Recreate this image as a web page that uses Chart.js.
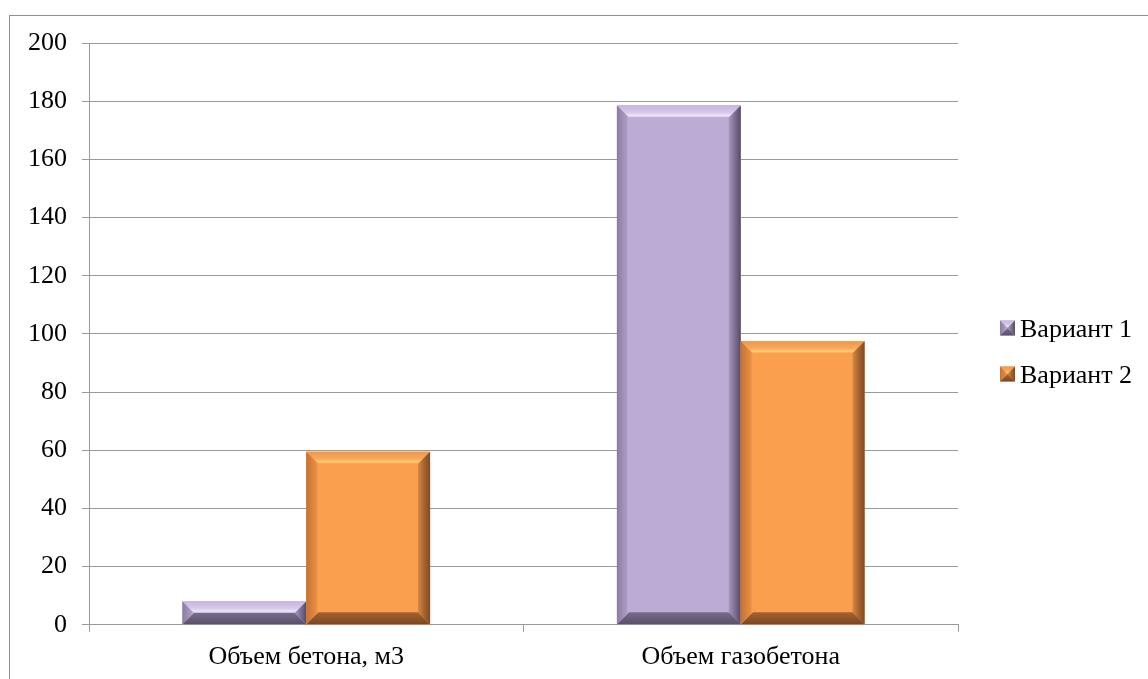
<!DOCTYPE html>
<html lang="ru">
<head>
<meta charset="utf-8">
<title>Объем бетона и газобетона</title>
<script src="https://cdn.jsdelivr.net/npm/chart.js@4.4.1/dist/chart.umd.min.js"></script>
<style>
  html, body { margin: 0; padding: 0; background: #fff; overflow: hidden; }
  #wrap { position: relative; width: 1148px; height: 679px; overflow: hidden; }
  #frame { position: absolute; left: 9px; top: 15px; width: 1200px; height: 700px; border: 1px solid #8f8f8f; box-sizing: border-box; pointer-events: none; }
  canvas { position: absolute; left: 0; top: 0; }
</style>
</head>
<body>
<div id="wrap">
  <canvas id="volumeChart" width="1148" height="679"></canvas>
  <div id="frame"></div>
</div>
<script>
const categories = ['Объем бетона, м3', 'Объем газобетона'];
const seriesNames = ['Вариант 1', 'Вариант 2'];
const variant1 = [8, 178.5];
const variant2 = [59.5, 97.5];
const yTicks = [0, 20, 40, 60, 80, 100, 120, 140, 160, 180, 200];

// excel-like bevel colours, one palette per series
const palettes = [
    {
        face: '#BCABD4',
        top: [[0, '#C6B6DC'], [0.6, '#D6C9EA'], [0.85, '#EFE6FC'], [1, '#C4B4DB']],
        left: [[0, '#8A7CA0'], [0.8, '#AC9CC4'], [1, '#C3B4DA']],
        right: [[0, '#A696BC'], [0.5, '#7E7094'], [1, '#564A66']],
        bottom: [[0, '#776B8C'], [1, '#5A5068']]
    },
    {
        face: '#FA9F4D',
        top: [[0, '#EC984F'], [0.6, '#F8A95B'], [0.85, '#FFCC70'], [1, '#F9A352']],
        left: [[0, '#C47333'], [0.8, '#E68D44'], [1, '#F7A052']],
        right: [[0, '#D88742'], [0.5, '#A7642F'], [1, '#7F4A23']],
        bottom: [[0, '#A4622E'], [1, '#7A4721']]
    }
];

function grad(ctx, x0, y0, x1, y1, stops) {
    const g = ctx.createLinearGradient(x0, y0, x1, y1);
    stops.forEach(s => g.addColorStop(s[0], s[1]));
    return g;
}

function poly(ctx, pts, fill) {
    ctx.beginPath();
    ctx.moveTo(pts[0][0], pts[0][1]);
    for (let i = 1; i < pts.length; i++) ctx.lineTo(pts[i][0], pts[i][1]);
    ctx.closePath();
    ctx.fillStyle = fill;
    ctx.fill();
}

function drawBevel(ctx, x0, x1, yTop, yBot, pal, size) {
    const b = Math.min(size, (yBot - yTop) / 2, (x1 - x0) / 2);
    ctx.save();
    ctx.fillStyle = pal.face;
    ctx.fillRect(x0, yTop, x1 - x0, yBot - yTop);
    poly(ctx, [[x0, yTop], [x1, yTop], [x1 - b, yTop + b], [x0 + b, yTop + b]],
        grad(ctx, 0, yTop, 0, yTop + b, pal.top));
    poly(ctx, [[x0, yBot], [x1, yBot], [x1 - b, yBot - b], [x0 + b, yBot - b]],
        grad(ctx, 0, yBot - b, 0, yBot, pal.bottom));
    poly(ctx, [[x0, yTop], [x0 + b, yTop + b], [x0 + b, yBot - b], [x0, yBot]],
        grad(ctx, x0, 0, x0 + b, 0, pal.left));
    poly(ctx, [[x1, yTop], [x1 - b, yTop + b], [x1 - b, yBot - b], [x1, yBot]],
        grad(ctx, x1 - b, 0, x1, 0, pal.right));
    ctx.restore();
}

const bevelBars = {
    id: 'bevelBars',
    afterDatasetsDraw(chart) {
        const ctx = chart.ctx;
        chart.data.datasets.forEach((ds, i) => {
            chart.getDatasetMeta(i).data.forEach(bar => {
                const p = bar.getProps(['x', 'y', 'base', 'width'], true);
                drawBevel(ctx, p.x - p.width / 2, p.x + p.width / 2,
                    Math.min(p.y, p.base), Math.max(p.y, p.base), palettes[i], 12);
            });
        });
    }
};

// legend drawn by hand so the bevelled squares match
const sideLegend = {
    id: 'sideLegend',
    afterDraw(chart) {
        const ctx = chart.ctx;
        const lx = chart.width - 148;
        const rows = [328, 374];
        ctx.save();
        ctx.font = "26px 'Liberation Serif', 'Times New Roman', serif";
        ctx.fillStyle = '#000';
        ctx.textBaseline = 'middle';
        chart.data.datasets.forEach((ds, i) => {
            const y = rows[i];
            drawBevel(ctx, lx, lx + 15, y - 7.5, y + 7.5, palettes[i], 7);
            ctx.fillStyle = '#000';
            ctx.fillText(ds.label, lx + 20, y + 2);
        });
        ctx.restore();
    }
};

Chart.defaults.font.family = "'Liberation Serif', 'Times New Roman', serif";
Chart.defaults.font.size = 26;
Chart.defaults.color = '#000';

new Chart(document.getElementById('volumeChart'), {
    type: 'bar',
    data: {
        labels: categories,
        datasets: [
            { label: seriesNames[0], data: variant1, backgroundColor: palettes[0].face, borderWidth: 0 },
            { label: seriesNames[1], data: variant2, backgroundColor: palettes[1].face, borderWidth: 0 }
        ]
    },
    options: {
        responsive: false,
        animation: false,
        layout: { padding: { left: 13, right: 190, top: 43, bottom: -4 } },
        datasets: { bar: { categoryPercentage: 0.57, barPercentage: 1 } },
        plugins: {
            legend: { display: false },
            tooltip: { enabled: false }
        },
        scales: {
            x: {
                grid: { drawOnChartArea: false, drawTicks: true, tickLength: 7, color: '#9a9a9a', offset: true },
                border: { color: '#9a9a9a' },
                ticks: { padding: 10, maxRotation: 0 }
            },
            y: {
                min: yTicks[0],
                max: yTicks[yTicks.length - 1],
                ticks: { stepSize: yTicks[1] - yTicks[0], padding: 15 },
                grid: { color: '#9a9a9a', tickLength: 7 },
                border: { color: '#9a9a9a' }
            }
        }
    },
    plugins: [bevelBars, sideLegend]
});
</script>
</body>
</html>
